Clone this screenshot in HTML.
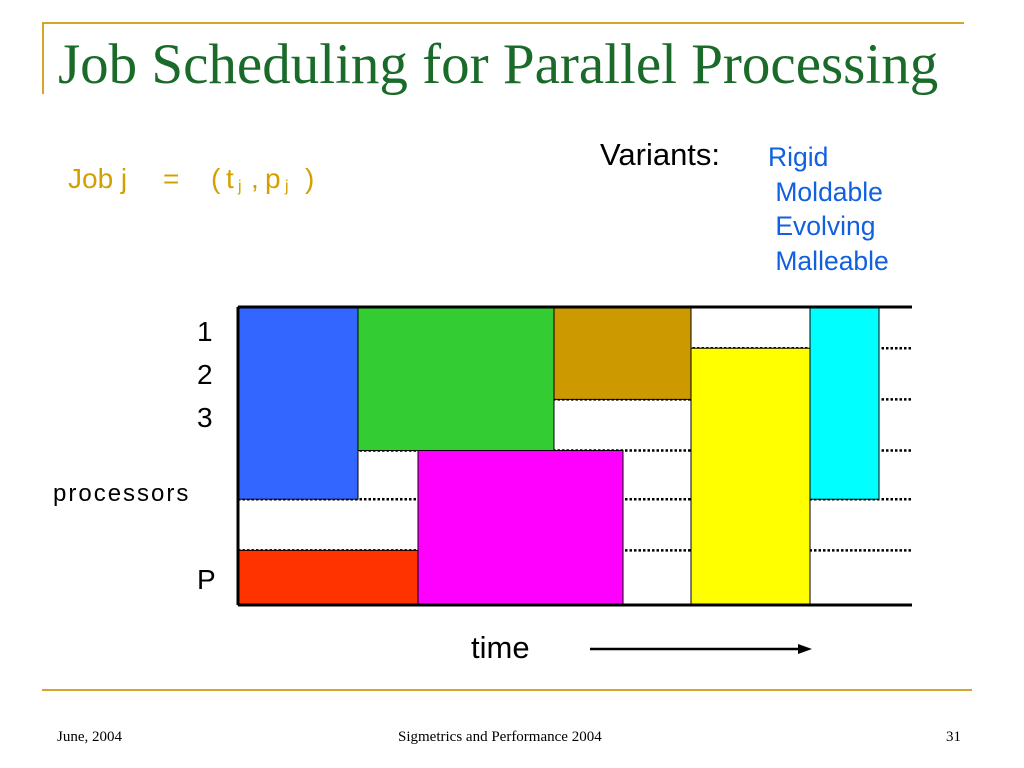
<!DOCTYPE html>
<html><head><meta charset="utf-8"><style>
body{margin:0;width:1024px;height:768px;background:#fff;font-family:"Liberation Sans",sans-serif;position:relative;overflow:hidden}
.a{position:absolute;white-space:nowrap}
</style></head><body>
<div class="a" style="left:42px;top:22px;width:922px;height:2px;background:#d4a52a"></div>
<div class="a" style="left:42px;top:22px;width:2px;height:72px;background:#d4a52a"></div>
<div class="a" style="left:58px;top:32px;font-family:'Liberation Serif',serif;font-size:57px;color:#1a6b2a">Job Scheduling for Parallel Processing</div>
<div class="a" style="left:68px;top:163px;font-size:28px;color:#d4a000">
<span class="a" style="left:0">Job j</span><span class="a" style="left:95px">=</span><span class="a" style="left:143px">(</span><span class="a" style="left:158px">t</span><span class="a" style="left:170px;top:15px;font-size:16px">j</span><span class="a" style="left:183px">,</span><span class="a" style="left:197px">p</span><span class="a" style="left:217px;top:15px;font-size:16px">j</span><span class="a" style="left:237px">)</span></div>
<div class="a" style="left:600px;top:137px;font-size:31px">Variants:</div>
<div class="a" style="left:768px;top:140px;font-size:26.5px;color:#1060e0;line-height:34.5px">Rigid<br>&nbsp;Moldable<br>&nbsp;Evolving<br>&nbsp;Malleable</div>
<div class="a" style="left:197px;top:316px;font-size:28px">1</div>
<div class="a" style="left:197px;top:359px;font-size:28px">2</div>
<div class="a" style="left:197px;top:402px;font-size:28px">3</div>
<div class="a" style="left:53px;top:480px;font-size:24px;letter-spacing:2px">processors</div>
<div class="a" style="left:197px;top:564px;font-size:28px">P</div>
<div class="a" style="left:471px;top:630px;font-size:31px">time</div>
<svg class="a" style="left:0;top:0" width="1024" height="768">
<g id="g"></g>
<line x1="590" y1="649" x2="800" y2="649" stroke="#000" stroke-width="2.5"/>
<polygon points="812,649 798,644 798,654" fill="#000"/>
</svg>
<div class="a" style="left:42px;top:689px;width:930px;height:2px;background:#d4a52a"></div>
<div class="a" style="left:57px;top:729px;font-family:'Liberation Serif',serif;font-size:15px">June, 2004</div>
<div class="a" style="left:398px;top:729px;font-family:'Liberation Serif',serif;font-size:15px">Sigmetrics and Performance 2004</div>
<div class="a" style="left:946px;top:729px;font-family:'Liberation Serif',serif;font-size:15px">31</div>
<script>
const jobNames=["blue","green","gold","yellow","cyan","red","magenta"];
const jobColors=["#3366ff","#33cc33","#cc9900","#ffff00","#00ffff","#ff3300","#ff00ff"];
const jobStart=[0,12,31.6,45.3,57.2,0,18];
const jobEnd=[12,31.6,45.3,57.2,64.1,18,38.5];
const procTop=[0,0,0,0.83,0,4.9,2.89];
const procBot=[3.87,2.89,1.86,6,3.87,6,6];
const levels=[0.83,1.86,2.89,3.87,4.9];
const X0=238,XS=10,Y0=307,YS=(605-307)/6,XEND=912;
const sx=t=>X0+t*XS, sy=p=>Y0+p*YS;
const g=document.getElementById('g'),NS="http://www.w3.org/2000/svg";
levels.forEach((l,i)=>{const e=document.createElementNS(NS,'line');


e.setAttribute('x1',X0);e.setAttribute('x2',XEND);e.setAttribute('y1',sy(l));e.setAttribute('y2',sy(l));
e.setAttribute('stroke','#000');e.setAttribute('stroke-width','2.5');e.setAttribute('stroke-dasharray','2.5 2');g.appendChild(e);});
jobNames.forEach((n,i)=>{const r=document.createElementNS(NS,'rect');


r.setAttribute('x',sx(jobStart[i]));r.setAttribute('width',sx(jobEnd[i])-sx(jobStart[i]));
r.setAttribute('y',sy(procTop[i]));r.setAttribute('height',sy(procBot[i])-sy(procTop[i]));
r.setAttribute('fill',jobColors[i]);r.setAttribute('stroke','#000');r.setAttribute('stroke-width','1');g.appendChild(r);});
[[X0,Y0,XEND,Y0],[X0,sy(6),XEND,sy(6)],[X0,Y0,X0,sy(6)]].forEach((c,i)=>{const e=document.createElementNS(NS,'line');


e.setAttribute('x1',c[0]);e.setAttribute('y1',c[1]);e.setAttribute('x2',c[2]);e.setAttribute('y2',c[3]);
e.setAttribute('stroke','#000');e.setAttribute('stroke-width','3');g.appendChild(e);});
</script>
</body></html>
